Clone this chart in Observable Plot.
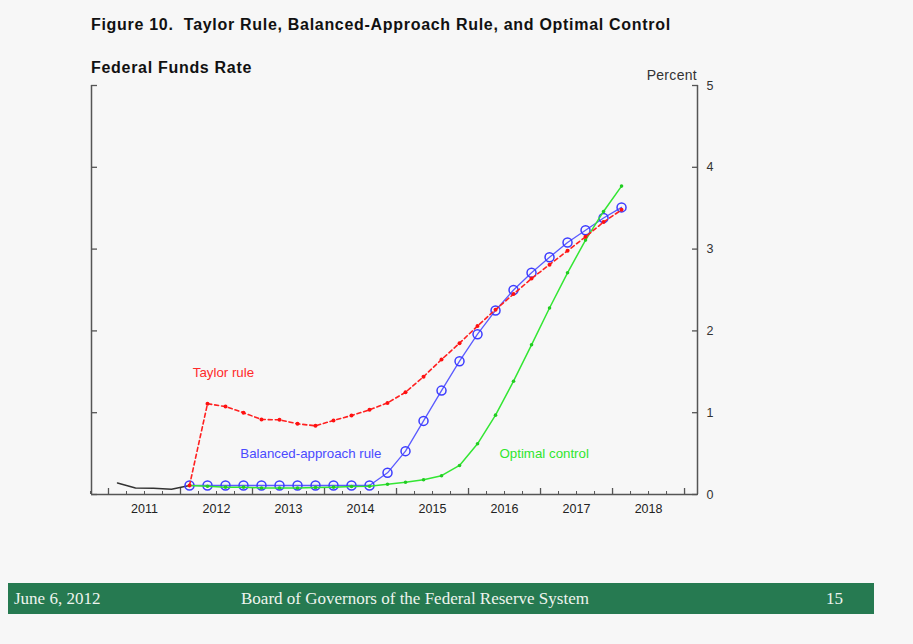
<!DOCTYPE html>
<html><head><meta charset="utf-8">
<script src="https://cdn.jsdelivr.net/npm/d3@7"></script>
<script src="https://cdn.jsdelivr.net/npm/@observablehq/plot@0.6"></script>
<style>
body{margin:0;background:#f7f7f7;font-family:"Liberation Sans",Arial,sans-serif;}
#page{position:relative;width:913px;height:644px;overflow:hidden;background:#f7f7f7;}
#chart{position:absolute;left:0;top:0;}
.title{position:absolute;left:91px;top:16px;font-weight:bold;font-size:16px;letter-spacing:0.7px;color:#111;white-space:pre;}
.sub{position:absolute;left:91px;top:59px;font-weight:bold;font-size:16px;letter-spacing:0.7px;color:#111;}
.pct{position:absolute;right:216px;top:67px;font-size:14px;letter-spacing:0.3px;color:#333;}
.footer{position:absolute;left:8px;top:583px;width:866px;height:31px;background:#267a51;color:#eef4ee;font-family:"Liberation Serif","Times New Roman",serif;font-size:17px;}
.footer span{position:absolute;top:6px;}
</style></head>
<body><div id="page">
<div class="title">Figure 10.  Taylor Rule, Balanced-Approach Rule, and Optimal Control</div>
<div class="sub">Federal Funds Rate</div>
<div class="pct">Percent</div>
<div id="chart"></div>
<div class="footer"><span style="left:6px">June 6, 2012</span><span style="left:233px">Board of Governors of the Federal Reserve System</span><span style="left:818px">15</span></div>
</div>
<script>
// Data
const histQuarters = ["2011Q1","2011Q2","2011Q3","2011Q4","2012Q1"];
const histValues = [0.14, 0.08, 0.075, 0.065, 0.11];

const projQuarters = ["2012Q1","2012Q2","2012Q3","2012Q4","2013Q1","2013Q2","2013Q3","2013Q4",
  "2014Q1","2014Q2","2014Q3","2014Q4","2015Q1","2015Q2","2015Q3","2015Q4",
  "2016Q1","2016Q2","2016Q3","2016Q4","2017Q1","2017Q2","2017Q3","2017Q4","2018Q1"];
const taylorRule = [0.11, 1.11, 1.075, 1.0, 0.917, 0.913, 0.864, 0.84,
  0.905, 0.966, 1.035, 1.12, 1.25, 1.44, 1.65, 1.85,
  2.06, 2.26, 2.45, 2.64, 2.81, 2.98, 3.15, 3.33, 3.48];
const balancedApproach = [0.11, 0.11, 0.11, 0.11, 0.11, 0.11, 0.11, 0.11,
  0.11, 0.11, 0.11, 0.265, 0.53, 0.90, 1.27, 1.63,
  1.96, 2.25, 2.50, 2.71, 2.90, 3.08, 3.23, 3.38, 3.51];
const optimalControl = [0.11, 0.10, 0.09, 0.09, 0.08, 0.08, 0.08, 0.085,
  0.09, 0.098, 0.10, 0.126, 0.15, 0.18, 0.23, 0.355,
  0.62, 0.97, 1.385, 1.83, 2.28, 2.71, 3.11, 3.46, 3.77];

const years = [2011, 2012, 2013, 2014, 2015, 2016, 2017, 2018];
const yTicks = [0, 1, 2, 3, 4, 5];
const xDomain = [2010.764, 2019.18];
const seriesLabels = [
  {text: "Taylor rule", x: 2012.17, y: 1.49, color: "#ff2a2a"},
  {text: "Balanced-approach rule", x: 2012.83, y: 0.50, color: "#4a4aff"},
  {text: "Optimal control", x: 2016.43, y: 0.50, color: "#2ee62e"}
];

// Helpers
const q2num = s => +s.slice(0, 4) + (+s[5] - 1) / 4 + 0.125;
const hist = histQuarters.map((q, i) => ({x: q2num(q), y: histValues[i]}));
const taylor = projQuarters.map((q, i) => ({x: q2num(q), y: taylorRule[i]}));
const balanced = projQuarters.map((q, i) => ({x: q2num(q), y: balancedApproach[i]}));
const optimal = projQuarters.map((q, i) => ({x: q2num(q), y: optimalControl[i]}));
const quarterTicks = [];
for (let y = 2010.75; y <= 2019.01; y += 0.25) quarterTicks.push(y);
const yearMid = years.map(y => y + 0.5);
const yearEdges = years.concat([2019]);

const blank = () => "";
const chart = Plot.plot({
  width: 913,
  height: 540,
  marginLeft: 91,
  marginRight: 216,
  marginTop: 85,
  marginBottom: 46,
  style: {background: "transparent", fontFamily: "'Liberation Sans', Arial, sans-serif", color: "#333"},
  x: {domain: xDomain},
  y: {domain: [0, 5]},
  marks: [
    Plot.ruleY([0], {stroke: "#555", strokeWidth: 1.5}),
    Plot.ruleX(xDomain, {stroke: "#555", strokeWidth: 1.5}),
    Plot.axisY({anchor: "right", ticks: yTicks, tickSize: 0, tickPadding: 9, fontSize: 12.5, label: null, tickFormat: d => String(d)}),
    Plot.axisY({anchor: "right", ticks: yTicks, tickSize: -6, tickFormat: blank, label: null, stroke: "#555", strokeWidth: 1.3}),
    Plot.axisY({anchor: "left", ticks: yTicks, tickSize: -6, tickFormat: blank, label: null, stroke: "#555", strokeWidth: 1.3}),
    Plot.axisX({ticks: quarterTicks, tickSize: -3, tickFormat: blank, label: null, stroke: "#555"}),
    Plot.axisX({ticks: yearEdges, tickSize: -6, tickFormat: blank, label: null, stroke: "#555", strokeWidth: 1.3}),
    Plot.axisX({ticks: yearMid, tickSize: 0, tickPadding: 10, fontSize: 12.5, fill: "#222", label: null, tickFormat: d => String(Math.floor(d))}),
    Plot.line(hist, {x: "x", y: "y", stroke: "#333", strokeWidth: 1.5}),
    Plot.line(balanced, {x: "x", y: "y", stroke: "#5a5aff", strokeWidth: 1.3}),
    Plot.dot(balanced, {x: "x", y: "y", r: 4.5, stroke: "#3c3cff", strokeWidth: 1.5, fill: "none"}),
    Plot.line(optimal, {x: "x", y: "y", stroke: "#33e633", strokeWidth: 1.5}),
    Plot.dot(optimal, {x: "x", y: "y", r: 1.8, fill: "#22cc22"}),
    Plot.line(taylor, {x: "x", y: "y", stroke: "#ff2020", strokeWidth: 1.6, strokeDasharray: "4,3"}),
    Plot.dot(taylor, {x: "x", y: "y", r: 2, fill: "#ff1010"}),
    Plot.text(seriesLabels, {x: "x", y: "y", text: "text", fill: "color", textAnchor: "start", fontSize: 13.3})
  ]
});
document.getElementById("chart").appendChild(chart);
</script>
</body></html>
